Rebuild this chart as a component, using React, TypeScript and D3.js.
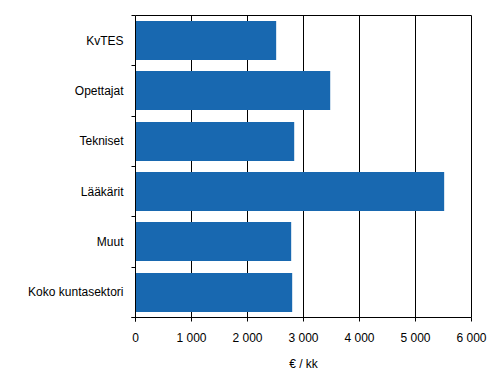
import React from "react";
import * as d3 from "d3";

const categories = ["KvTES", "Opettajat", "Tekniset", "Lääkärit", "Muut", "Koko kuntasektori"];
const values = [2512, 3477, 2834, 5512, 2780, 2798];
const xTicks = [0, 1000, 2000, 3000, 4000, 5000, 6000];
const xTickLabels = ["0", "1 000", "2 000", "3 000", "4 000", "5 000", "6 000"];
const axisTitle = "€ / kk";

export default function App() {
  const W = 497, H = 377;
  const left = 135.5, right = 471.5, top = 15.5, bottom = 317.5;
  const x = d3.scaleLinear().domain([0, 6000]).range([left, right]);
  const y = d3.scaleBand<string>().domain(categories).range([top, bottom]).paddingInner(0.22).paddingOuter(0.11);
  const step = y.step();
  const boundaries = d3.range(categories.length + 1).map((i) => Math.round(top + i * step - 0.5) + 0.5);
  const font = "'Liberation Sans', Arial, sans-serif";
  return (
    <svg width={W} height={H} style={{ position: "absolute", left: 0, top: 0, background: "#fff" }}>
      {xTicks.slice(1).map((t) => (
        <line key={t} x1={x(t)} x2={x(t)} y1={top} y2={bottom} stroke="#000" strokeWidth={1} />
      ))}
      <line x1={left} x2={right} y1={top} y2={top} stroke="#000" strokeWidth={1} />
      {categories.map((c, i) => (
        <rect key={c} x={x(0)} y={Math.round(y(c)!)} width={x(values[i]) - x(0)} height={Math.round(y.bandwidth())} fill="#1868b0" />
      ))}
      <line x1={left} x2={left} y1={top} y2={bottom + 4} stroke="#000" strokeWidth={1} />
      <line x1={left - 4} x2={right} y1={bottom} y2={bottom} stroke="#000" strokeWidth={1} />
      {xTicks.map((t) => (
        <line key={"t" + t} x1={x(t)} x2={x(t)} y1={bottom} y2={bottom + 4} stroke="#000" strokeWidth={1} />
      ))}
      {boundaries.map((b, i) => (
        <line key={"b" + i} x1={left - 4} x2={left} y1={b} y2={b} stroke="#000" strokeWidth={1} />
      ))}
      {xTicks.map((t, i) => (
        <text key={"l" + t} x={x(t)} y={342} textAnchor="middle" fontFamily={font} fontSize={12} fill="#000">
          {xTickLabels[i]}
        </text>
      ))}
      {categories.map((c) => (
        <text key={"c" + c} x={123.5} y={y(c)! + y.bandwidth() / 2 + 4} textAnchor="end" fontFamily={font} fontSize={12} fill="#000">
          {c}
        </text>
      ))}
      <text x={(left + right) / 2} y={368} textAnchor="middle" fontFamily={font} fontSize={12} fill="#000">
        {axisTitle}
      </text>
    </svg>
  );
}
